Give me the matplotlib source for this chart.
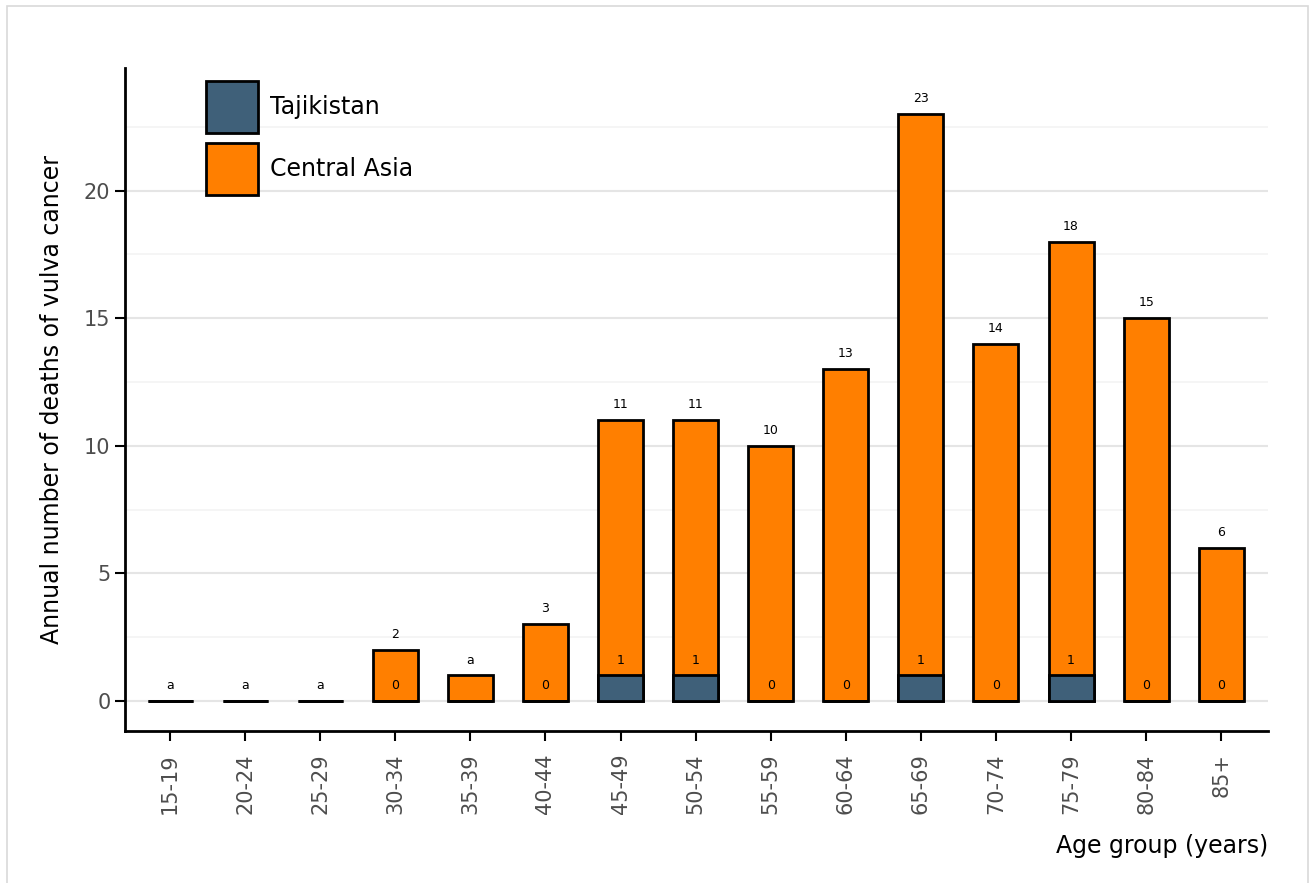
import matplotlib.pyplot as plt
import numpy as np
from matplotlib.patches import Rectangle, Patch

# data
age_groups = ['15-19', '20-24', '25-29', '30-34', '35-39', '40-44', '45-49', '50-54',
              '55-59', '60-64', '65-69', '70-74', '75-79', '80-84', '85+']
central_asia = [0, 0, 0, 2, 1, 3, 11, 11, 10, 13, 23, 14, 18, 15, 6]
tajikistan = [0, 0, 0, 0, 0, 0, 1, 1, 0, 0, 1, 0, 1, 0, 0]
central_asia_labels = ['a', 'a', 'a', '2', 'a', '3', '11', '11', '10', '13', '23', '14', '18', '15', '6']
tajikistan_labels = ['a', 'a', 'a', '0', '', '0', '1', '1', '0', '0', '1', '0', '1', '0', '0']

col_taj = '#3f6079'
col_ca = '#ff7f00'

fig = plt.figure(figsize=(13.09, 8.83), dpi=100)
ax = fig.add_axes([0.0955, 0.172, 0.873, 0.751])

# light frame around the figure
fig.patches.append(Rectangle((7 / 1309, -0.01), 1301 / 1309, 1 - 6 / 883 + 0.01,
                             transform=fig.transFigure, fill=False,
                             edgecolor='#d9d9d9', linewidth=1.2, zorder=0))

x = np.arange(len(age_groups))
ax.bar(x, central_asia, width=0.6, color=col_ca, edgecolor='black', linewidth=2, zorder=3)
ax.bar(x, tajikistan, width=0.6, color=col_taj, edgecolor='black', linewidth=2, zorder=4)

for i in range(len(x)):
    ax.text(x[i], central_asia[i] + 0.35, central_asia_labels[i], ha='center', va='bottom',
            fontsize=9, zorder=5)
    if tajikistan_labels[i] and tajikistan_labels[i] != 'a':
        ax.text(x[i], tajikistan[i] + 0.35, tajikistan_labels[i], ha='center', va='bottom',
                fontsize=9, zorder=5)

ax.set_xlim(-0.6, 14.62)
ax.set_ylim(-1.18, 24.8)
ax.set_yticks([0, 5, 10, 15, 20])
ax.set_yticks([2.5, 7.5, 12.5, 17.5, 22.5], minor=True)
ax.grid(axis='y', which='major', color='#e5e5e5', linewidth=1.5, zorder=0)
ax.grid(axis='y', which='minor', color='#f3f3f3', linewidth=1.2, zorder=0)
ax.tick_params(axis='y', which='minor', length=0)
ax.set_xticks(x)
ax.set_xticklabels(age_groups, rotation=90)
ax.tick_params(axis='both', which='major', labelsize=15, labelcolor='#4d4d4d',
               length=7, width=1.5, color='black')
ax.tick_params(axis='x', pad=9)

for s in ['top', 'right']:
    ax.spines[s].set_visible(False)
for s in ['left', 'bottom']:
    ax.spines[s].set_linewidth(2)

ax.set_ylabel('Annual number of deaths of vulva cancer', fontsize=17, labelpad=14)
ax.set_xlabel('Age group (years)', fontsize=17, loc='right', labelpad=14)

handles = [Patch(facecolor=col_taj, edgecolor='black', linewidth=2, label='Tajikistan'),
           Patch(facecolor=col_ca, edgecolor='black', linewidth=2, label='Central Asia')]
ax.legend(handles=handles, loc='upper left', bbox_to_anchor=(0.0709, 0.980), frameon=False,
          fontsize=17, handlelength=2.2, handleheight=3.0, labelspacing=0.42,
          handletextpad=0.5, borderpad=0, borderaxespad=0)

fig.savefig('out.png', dpi=100)
